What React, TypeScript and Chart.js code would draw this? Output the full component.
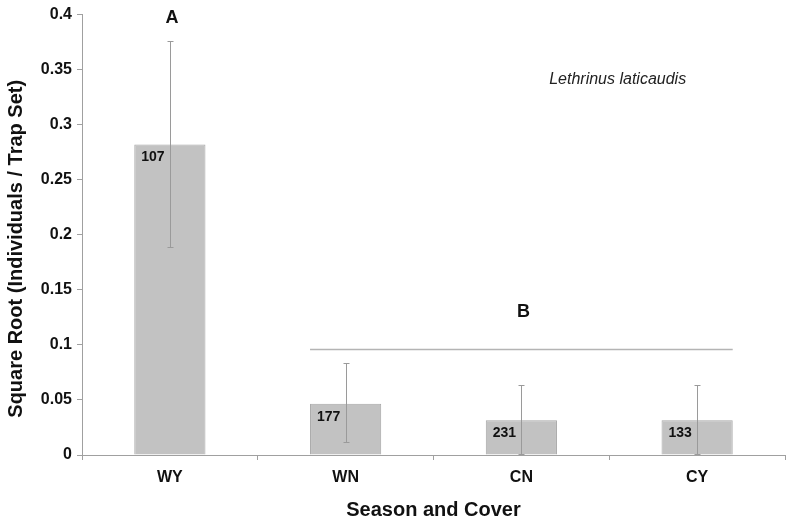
import React, { useEffect, useRef } from "react";
import { Chart, registerables } from "chart.js";

Chart.register(...registerables);

const categories = ["WY", "WN", "CN", "CY"];
const means = [0.282, 0.0465, 0.0315, 0.0315];
const errHigh = [0.376, 0.084, 0.064, 0.064];
const errLow = [0.189, 0.0115, 0.001, 0.001];
const sampleSizes = ["107", "177", "231", "133"];
const yTickLabels = ["0", "0.05", "0.1", "0.15", "0.2", "0.25", "0.3", "0.35", "0.4"];
const groupLetters = ["A", "B"];
const groupLetterCats = [0, 2];
const groupLetterValues = [0.397, 0.13];
const groupLineCats = [1, 3];
const groupLineValue = 0.096;
const speciesName = "Lethrinus laticaudis";
const speciesValue = 0.341;
const xTitle = "Season and Cover";
const yTitle = "Square Root (Individuals / Trap Set)";

const FONT = "'Liberation Sans', Arial, Helvetica, sans-serif";

const annotPlugin = {
  id: "annot",
  afterDatasetsDraw(chart: any) {
    const ctx = chart.ctx;
    const y = chart.scales.y;
    const meta = chart.getDatasetMeta(0);
    const area = chart.chartArea;
    ctx.save();
    // error bars
    ctx.strokeStyle = "#9a9a9a";
    ctx.lineWidth = 1;
    meta.data.forEach((bar: any, i: number) => {
      const cx = Math.round(bar.x) + 0.5;
      const yt = Math.round(y.getPixelForValue(errHigh[i])) + 0.5;
      const yb = Math.round(y.getPixelForValue(errLow[i])) + 0.5;
      ctx.beginPath();
      ctx.moveTo(cx, yt);
      ctx.lineTo(cx, yb);
      ctx.moveTo(cx - 3, yt);
      ctx.lineTo(cx + 3, yt);
      ctx.moveTo(cx - 3, yb);
      ctx.lineTo(cx + 3, yb);
      ctx.stroke();
    });
    // sample size labels
    ctx.fillStyle = "#111";
    ctx.font = `bold 14px ${FONT}`;
    ctx.textAlign = "left";
    ctx.textBaseline = "middle";
    meta.data.forEach((bar: any, i: number) => {
      ctx.fillText(sampleSizes[i], bar.x - bar.width / 2 + 7, bar.y + 13);
    });
    // group line
    const b0: any = meta.data[groupLineCats[0]];
    const b1: any = meta.data[groupLineCats[1]];
    const ly = Math.round(y.getPixelForValue(groupLineValue)) + 0.5;
    ctx.strokeStyle = "#b4b4b4";
    ctx.lineWidth = 1.5;
    ctx.beginPath();
    ctx.moveTo(b0.x - b0.width / 2, ly);
    ctx.lineTo(b1.x + b1.width / 2, ly);
    ctx.stroke();
    // group letters
    ctx.font = `bold 18px ${FONT}`;
    ctx.textAlign = "center";
    groupLetters.forEach((t, i) => {
      const bar: any = meta.data[groupLetterCats[i]];
      ctx.fillText(t, bar.x + 2, y.getPixelForValue(groupLetterValues[i]));
    });
    // species name
    ctx.font = `italic 16px ${FONT}`;
    ctx.fillStyle = "#222";
    ctx.fillText(speciesName, area.left + (area.right - area.left) * 0.762, y.getPixelForValue(speciesValue));
    // y axis title
    ctx.save();
    ctx.translate(16, (area.top + area.bottom) / 2 + 14);
    ctx.rotate(-Math.PI / 2);
    ctx.font = `bold 20px ${FONT}`;
    ctx.fillStyle = "#111";
    ctx.textAlign = "center";
    ctx.textBaseline = "middle";
    ctx.fillText(yTitle, 0, 0);
    ctx.restore();
    ctx.restore();
  },
};

export default function App() {
  const ref = useRef<HTMLCanvasElement | null>(null);
  useEffect(() => {
    if (!ref.current) return;
    const chart = new Chart(ref.current, {
      type: "bar",
      data: {
        labels: categories,
        datasets: [
          {
            data: means,
            backgroundColor: "#c2c2c2",
            borderColor: "#a6a6a6",
            borderWidth: 1,
            barPercentage: 0.405,
            categoryPercentage: 1,
          },
        ],
      },
      options: {
        responsive: false,
        animation: false,
        layout: { padding: { top: 14, right: 1, left: 0, bottom: 0 } },
        plugins: { legend: { display: false }, tooltip: { enabled: false } },
        scales: {
          x: {
            offset: true,
            grid: { offset: true, drawOnChartArea: false, tickLength: 5, color: "#a0a0a0" },
            border: { color: "#a0a0a0", width: 1 },
            ticks: { color: "#111", font: { family: FONT, size: 16, weight: "bold" }, padding: 8 },
            title: {
              display: true,
              text: xTitle,
              color: "#111",
              font: { family: FONT, size: 20, weight: "bold" },
              padding: { top: 0, bottom: 3 },
            },
            afterFit: (s: any) => {
              s.height = 70;
            },
          },
          y: {
            min: 0,
            max: 0.4,
            ticks: {
              stepSize: 0.05,
              color: "#111",
              font: { family: FONT, size: 16, weight: "bold" },
              padding: 5,
              callback: (_v: any, i: number) => yTickLabels[i],
            },
            grid: { drawOnChartArea: false, tickLength: 5, color: "#a0a0a0" },
            border: { color: "#a0a0a0", width: 1 },
            afterFit: (s: any) => {
              s.width = 82;
            },
          },
        },
      },
      plugins: [annotPlugin],
    });
    return () => chart.destroy();
  }, []);
  return (
    <div style={{ position: "absolute", left: 0, top: 0, width: 786, height: 525, background: "#fff" }}>
      <canvas ref={ref} width={786} height={525} style={{ display: "block" }} />
    </div>
  );
}
